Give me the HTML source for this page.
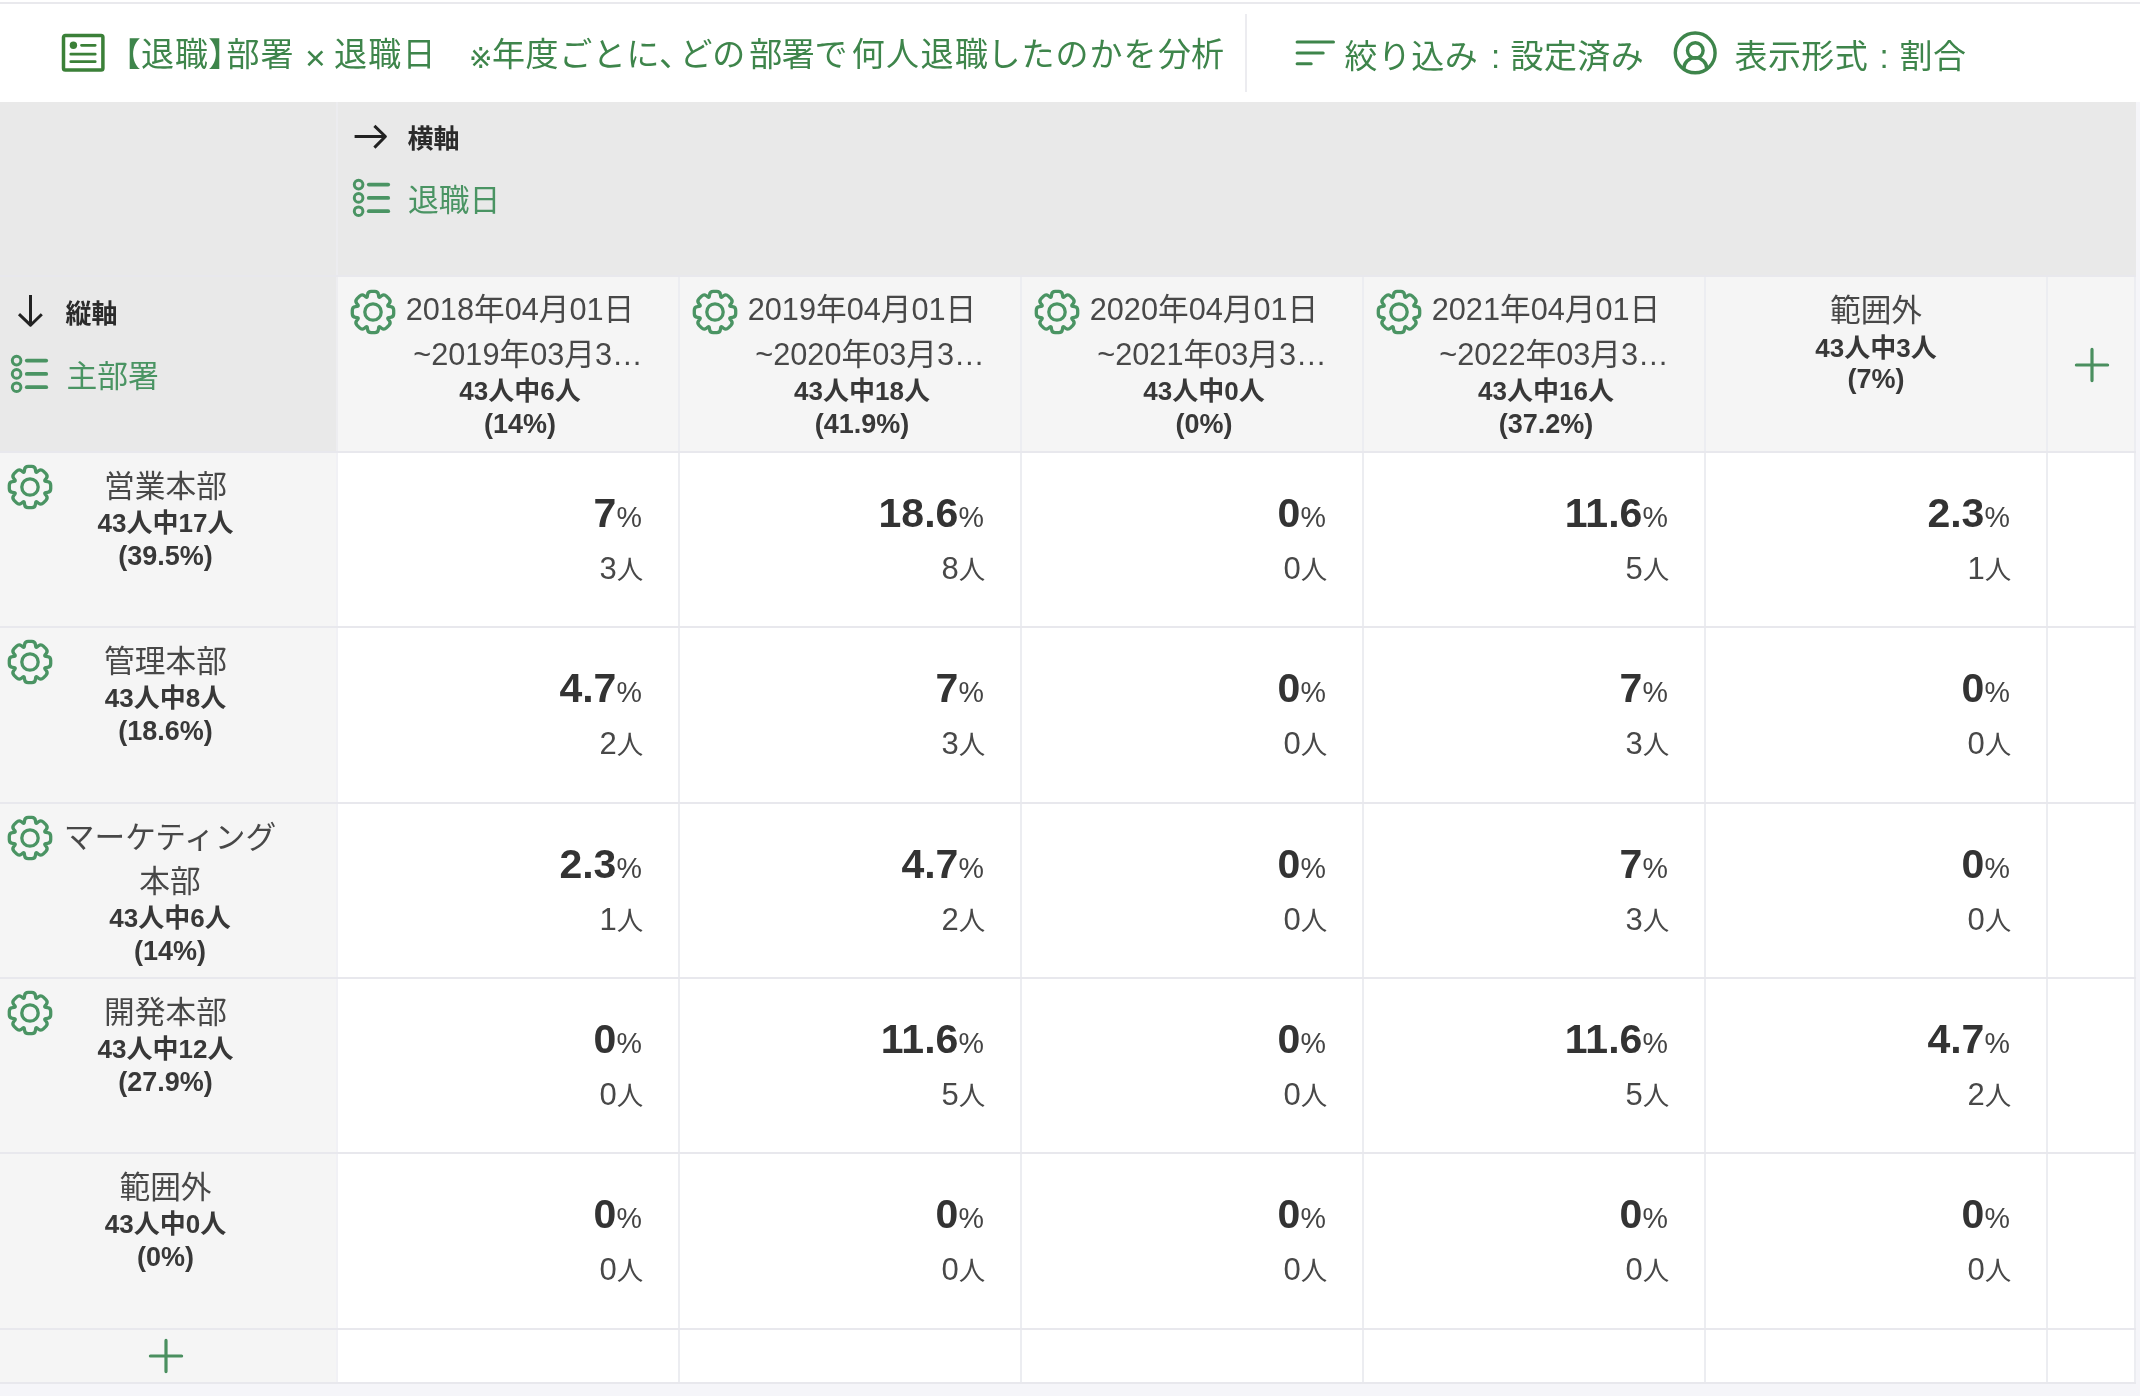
<!DOCTYPE html>
<html lang="ja"><head><meta charset="utf-8"><title>【退職】部署 × 退職日</title>
<style>
html,body{margin:0;padding:0}
html{background:#f5f5f9}
body{will-change:transform;width:2140px;height:1396px;position:relative;overflow:hidden;background:#f5f5f9;
 font-family:"Liberation Sans","Noto Sans CJK JP",sans-serif;color:#3a3a3a;-webkit-font-smoothing:antialiased}
div,span,svg{position:absolute;box-sizing:border-box}
.ic{display:block;overflow:visible}
.t{white-space:nowrap;line-height:1}
.grp{left:0;top:0;width:0;height:0}
.bar{left:0;top:0;width:2140px;height:102px;background:#fff}
.topline{left:0;top:2px;width:2140px;height:2px;background:#e9e9ed}
.ttl{font-size:33px;color:#3e854b;top:37px;height:36px;line-height:36px;font-weight:400}
.hl{background:#e8e8ed;height:2px}
.vl{background:#ecedf1;width:2px}
.axis{font-size:26px;font-weight:700;color:#2b2b2b}
.axname{font-size:30.8px;color:#4a9463}
.nm{font-size:30.7px;color:#484848;text-align:center;line-height:45px;height:45px}
.bd{font-size:26px;font-weight:700;color:#383838;text-align:center;line-height:34px;height:34px}
.pct{text-align:right;height:46px;line-height:46px;font-size:41px;font-weight:700;color:#333;width:300px}
.pct i{font-style:normal;font-weight:400;font-size:28.6px;color:#444;margin-left:0.2px}
.cnt{text-align:right;height:40px;line-height:40px;font-size:31px;color:#484848;width:300px}
.cnt b{font-weight:400;font-size:26.5px}
.b2{font-size:27px}
</style></head><body>

<div class="bar"></div><div class="topline"></div>
<svg class="ic" style="left:60px;top:32px" width="46" height="42" viewBox="0 0 46 42"><rect x="3.5" y="3.4" width="39.4" height="34.7" rx="1.8" fill="none" stroke="#3b8038" stroke-width="3.5"/><circle cx="13.4" cy="13.2" r="3.7" fill="#3b8038"/><path d="M21.5 13.3H35.2M10.8 22.2H35.2M10.8 29.7H35.2" stroke="#3b8038" stroke-width="2.8" stroke-linecap="round" fill="none"/></svg>
<div class="grp"><span class="t ttl" style="left:123.5px;font-feature-settings:'palt';letter-spacing:1px">【退職】部署</span><span class="t ttl" style="left:305px;font-size:35.5px;top:40.2px"> × </span><span class="t ttl" style="left:334px;letter-spacing:1.3px">退職日</span><span class="t ttl" style="left:440px;">　</span><span class="t ttl" style="left:468.8px;font-size:28.5px;top:41px;font-family:'DejaVu Sans',sans-serif">※</span><span class="t ttl" style="left:492px;letter-spacing:0.6px">年度ごとに、</span><span class="t ttl" style="left:679.6px;letter-spacing:-0.4px">どの</span><span class="t ttl" style="left:749.2px;letter-spacing:-0.4px">部署で</span><span class="t ttl" style="left:851.7px;letter-spacing:1.4px">何人退職</span><span class="t ttl" style="left:987.5px;letter-spacing:1px">したのかを</span><span class="t ttl" style="left:1158px;">分析</span></div>
<div style="left:1245px;top:14px;width:2px;height:78px;background:#ececf0"></div>
<svg class="ic" style="left:1294px;top:38px" width="44" height="30" viewBox="0 0 44 30"><path d="M3.1 3.9H39.5M3.1 14.9H29.2M3.1 25.8H17.2" stroke="#3e854b" stroke-width="3" stroke-linecap="round" fill="none"/></svg>
<div class="grp"><span class="t ttl" style="left:1344.5px;letter-spacing:0.4px;top:38.8px">絞り込み</span><span class="t ttl" style="left:1491px;top:38.8px"> : </span><span class="t ttl" style="left:1510.5px;letter-spacing:0.4px;top:38.8px">設定済み</span></div>
<svg class="ic" style="left:1672px;top:29px" width="46" height="46" viewBox="0 0 46 46"><circle cx="23.2" cy="23.9" r="19.9" fill="none" stroke="#3e854b" stroke-width="3.4"/><circle cx="23.3" cy="21.5" r="7.8" fill="none" stroke="#3e854b" stroke-width="3.4"/><path d="M11.7 40.2A11.6 11.6 0 0 1 34.9 40.2" fill="none" stroke="#3e854b" stroke-width="3.4"/></svg>
<div class="grp"><span class="t ttl" style="left:1734.5px;letter-spacing:0.4px;top:38.8px">表示形式</span><span class="t ttl" style="left:1879.5px;top:38.8px"> : </span><span class="t ttl" style="left:1899.5px;letter-spacing:0.4px;top:38.8px">割合</span></div>
<div style="left:0;top:102px;width:2136px;height:1282px;background:#fff"></div>
<div style="left:0;top:102px;width:2136px;height:174px;background:#e9e9e9"></div>
<div style="left:0;top:276px;width:337px;height:176px;background:#e9e9e9"></div>
<div style="left:337px;top:276px;width:1799px;height:176px;background:#f5f5f5"></div>
<div style="left:0;top:452px;width:337px;height:932px;background:#f5f5f5"></div>
<div class="vl" style="left:336px;top:102px;height:174px;background:#ececef"></div>
<div class="vl" style="left:336px;top:276px;height:176px;background:#ededf0"></div>
<div class="vl" style="left:336px;top:452px;height:932px;background:#f1f1f5"></div>
<div class="vl" style="left:678px;top:276px;height:1108px"></div>
<div class="vl" style="left:1020px;top:276px;height:1108px"></div>
<div class="vl" style="left:1362px;top:276px;height:1108px"></div>
<div class="vl" style="left:1704px;top:276px;height:1108px"></div>
<div class="vl" style="left:2046px;top:276px;height:1108px"></div>
<div class="vl" style="left:2134px;top:276px;height:1108px"></div>
<div class="hl" style="left:0;top:275px;width:2136px"></div>
<div class="hl" style="left:0;top:451px;width:2136px"></div>
<div class="hl" style="left:0;top:626px;width:2136px"></div>
<div class="hl" style="left:0;top:802px;width:2136px"></div>
<div class="hl" style="left:0;top:977px;width:2136px"></div>
<div class="hl" style="left:0;top:1152px;width:2136px"></div>
<div class="hl" style="left:0;top:1328px;width:2136px"></div>
<div class="hl" style="left:0;top:1382px;width:2136px"></div>
<svg class="ic" style="left:352px;top:122px" width="38" height="30" viewBox="0 0 38 30"><path d="M2.6 14.5H33M22.4 3.9L33.4 14.5L22.4 25.6" fill="none" stroke="#222" stroke-width="3" stroke-linejoin="round"/></svg>
<span class="t axis" id="a1" style="left:407.5px;top:125.5px">横軸</span>
<svg class="ic" style="left:352.0px;top:178.4px" width="44" height="40" viewBox="0 0 44 40"><circle cx="6.6" cy="6.6" r="4.3" fill="none" stroke="#4a9463" stroke-width="3"/><line x1="16.8" y1="6.6" x2="36.2" y2="6.6" stroke="#4a9463" stroke-width="3.8" stroke-linecap="round"/><circle cx="6.6" cy="19.9" r="4.3" fill="none" stroke="#4a9463" stroke-width="3"/><line x1="16.8" y1="19.9" x2="36.2" y2="19.9" stroke="#4a9463" stroke-width="3.8" stroke-linecap="round"/><circle cx="6.6" cy="33.2" r="4.3" fill="none" stroke="#4a9463" stroke-width="3"/><line x1="16.8" y1="33.2" x2="36.2" y2="33.2" stroke="#4a9463" stroke-width="3.8" stroke-linecap="round"/></svg>
<span class="t axname" id="a2" style="left:408px;top:186.3px">退職日</span>
<svg class="ic" style="left:15px;top:292px" width="32" height="38" viewBox="0 0 32 38"><path d="M15.5 3V32.5M4 22.2L15.5 33.2L26.8 22.2" fill="none" stroke="#222" stroke-width="3" stroke-linejoin="round"/></svg>
<span class="t axis" id="a3" style="left:65.5px;top:300.5px">縦軸</span>
<svg class="ic" style="left:10.0px;top:354.0px" width="44" height="40" viewBox="0 0 44 40"><circle cx="6.6" cy="6.6" r="4.3" fill="none" stroke="#4a9463" stroke-width="3"/><line x1="16.8" y1="6.6" x2="36.2" y2="6.6" stroke="#4a9463" stroke-width="3.8" stroke-linecap="round"/><circle cx="6.6" cy="19.9" r="4.3" fill="none" stroke="#4a9463" stroke-width="3"/><line x1="16.8" y1="19.9" x2="36.2" y2="19.9" stroke="#4a9463" stroke-width="3.8" stroke-linecap="round"/><circle cx="6.6" cy="33.2" r="4.3" fill="none" stroke="#4a9463" stroke-width="3"/><line x1="16.8" y1="33.2" x2="36.2" y2="33.2" stroke="#4a9463" stroke-width="3.8" stroke-linecap="round"/></svg>
<span class="t axname" id="a4" style="left:66.5px;top:361.8px">主部署</span>
<svg class="ic" style="left:349px;top:288px" width="48" height="48" viewBox="0 0 48 48"><path d="M18.58 6.47Q18.99 3.30 22.19 3.30L25.81 3.30Q29.01 3.30 29.42 6.47L29.65 8.28Q29.86 9.86 31.12 8.89L32.56 7.77Q35.10 5.82 37.36 8.08L39.92 10.64Q42.18 12.90 40.23 15.44L39.11 16.88Q38.14 18.14 39.72 18.35L41.53 18.58Q44.70 18.99 44.70 22.19L44.70 25.81Q44.70 29.01 41.53 29.42L39.72 29.65Q38.14 29.86 39.11 31.12L40.23 32.56Q42.18 35.10 39.92 37.36L37.36 39.92Q35.10 42.18 32.56 40.23L31.12 39.11Q29.86 38.14 29.65 39.72L29.42 41.53Q29.01 44.70 25.81 44.70L22.19 44.70Q18.99 44.70 18.58 41.53L18.35 39.72Q18.14 38.14 16.88 39.11L15.44 40.23Q12.90 42.18 10.64 39.92L8.08 37.36Q5.82 35.10 7.77 32.56L8.89 31.12Q9.86 29.86 8.28 29.65L6.47 29.42Q3.30 29.01 3.30 25.81L3.30 22.19Q3.30 18.99 6.47 18.58L8.28 18.35Q9.86 18.14 8.89 16.88L7.77 15.44Q5.82 12.90 8.08 10.64L10.64 8.08Q12.90 5.82 15.44 7.77L16.88 8.89Q18.14 9.86 18.35 8.28Z" fill="none" stroke="#4a9463" stroke-width="3.3" stroke-linejoin="round"/><circle cx="24" cy="24" r="8.2" fill="none" stroke="#4a9463" stroke-width="3.3"/></svg>
<div class="t nm" style="left:390px;top:287px;width:260px">2018年04月01日</div>
<div class="t nm" style="left:398px;top:332px;width:260px">~2019年03月3…</div>
<div class="t bd" style="left:390px;top:374.2px;width:260px">43人中6人</div>
<div class="t bd b2" style="left:390px;top:406.7px;width:260px">(14%)</div>
<svg class="ic" style="left:691px;top:288px" width="48" height="48" viewBox="0 0 48 48"><path d="M18.58 6.47Q18.99 3.30 22.19 3.30L25.81 3.30Q29.01 3.30 29.42 6.47L29.65 8.28Q29.86 9.86 31.12 8.89L32.56 7.77Q35.10 5.82 37.36 8.08L39.92 10.64Q42.18 12.90 40.23 15.44L39.11 16.88Q38.14 18.14 39.72 18.35L41.53 18.58Q44.70 18.99 44.70 22.19L44.70 25.81Q44.70 29.01 41.53 29.42L39.72 29.65Q38.14 29.86 39.11 31.12L40.23 32.56Q42.18 35.10 39.92 37.36L37.36 39.92Q35.10 42.18 32.56 40.23L31.12 39.11Q29.86 38.14 29.65 39.72L29.42 41.53Q29.01 44.70 25.81 44.70L22.19 44.70Q18.99 44.70 18.58 41.53L18.35 39.72Q18.14 38.14 16.88 39.11L15.44 40.23Q12.90 42.18 10.64 39.92L8.08 37.36Q5.82 35.10 7.77 32.56L8.89 31.12Q9.86 29.86 8.28 29.65L6.47 29.42Q3.30 29.01 3.30 25.81L3.30 22.19Q3.30 18.99 6.47 18.58L8.28 18.35Q9.86 18.14 8.89 16.88L7.77 15.44Q5.82 12.90 8.08 10.64L10.64 8.08Q12.90 5.82 15.44 7.77L16.88 8.89Q18.14 9.86 18.35 8.28Z" fill="none" stroke="#4a9463" stroke-width="3.3" stroke-linejoin="round"/><circle cx="24" cy="24" r="8.2" fill="none" stroke="#4a9463" stroke-width="3.3"/></svg>
<div class="t nm" style="left:732px;top:287px;width:260px">2019年04月01日</div>
<div class="t nm" style="left:740px;top:332px;width:260px">~2020年03月3…</div>
<div class="t bd" style="left:732px;top:374.2px;width:260px">43人中18人</div>
<div class="t bd b2" style="left:732px;top:406.7px;width:260px">(41.9%)</div>
<svg class="ic" style="left:1033px;top:288px" width="48" height="48" viewBox="0 0 48 48"><path d="M18.58 6.47Q18.99 3.30 22.19 3.30L25.81 3.30Q29.01 3.30 29.42 6.47L29.65 8.28Q29.86 9.86 31.12 8.89L32.56 7.77Q35.10 5.82 37.36 8.08L39.92 10.64Q42.18 12.90 40.23 15.44L39.11 16.88Q38.14 18.14 39.72 18.35L41.53 18.58Q44.70 18.99 44.70 22.19L44.70 25.81Q44.70 29.01 41.53 29.42L39.72 29.65Q38.14 29.86 39.11 31.12L40.23 32.56Q42.18 35.10 39.92 37.36L37.36 39.92Q35.10 42.18 32.56 40.23L31.12 39.11Q29.86 38.14 29.65 39.72L29.42 41.53Q29.01 44.70 25.81 44.70L22.19 44.70Q18.99 44.70 18.58 41.53L18.35 39.72Q18.14 38.14 16.88 39.11L15.44 40.23Q12.90 42.18 10.64 39.92L8.08 37.36Q5.82 35.10 7.77 32.56L8.89 31.12Q9.86 29.86 8.28 29.65L6.47 29.42Q3.30 29.01 3.30 25.81L3.30 22.19Q3.30 18.99 6.47 18.58L8.28 18.35Q9.86 18.14 8.89 16.88L7.77 15.44Q5.82 12.90 8.08 10.64L10.64 8.08Q12.90 5.82 15.44 7.77L16.88 8.89Q18.14 9.86 18.35 8.28Z" fill="none" stroke="#4a9463" stroke-width="3.3" stroke-linejoin="round"/><circle cx="24" cy="24" r="8.2" fill="none" stroke="#4a9463" stroke-width="3.3"/></svg>
<div class="t nm" style="left:1074px;top:287px;width:260px">2020年04月01日</div>
<div class="t nm" style="left:1082px;top:332px;width:260px">~2021年03月3…</div>
<div class="t bd" style="left:1074px;top:374.2px;width:260px">43人中0人</div>
<div class="t bd b2" style="left:1074px;top:406.7px;width:260px">(0%)</div>
<svg class="ic" style="left:1375px;top:288px" width="48" height="48" viewBox="0 0 48 48"><path d="M18.58 6.47Q18.99 3.30 22.19 3.30L25.81 3.30Q29.01 3.30 29.42 6.47L29.65 8.28Q29.86 9.86 31.12 8.89L32.56 7.77Q35.10 5.82 37.36 8.08L39.92 10.64Q42.18 12.90 40.23 15.44L39.11 16.88Q38.14 18.14 39.72 18.35L41.53 18.58Q44.70 18.99 44.70 22.19L44.70 25.81Q44.70 29.01 41.53 29.42L39.72 29.65Q38.14 29.86 39.11 31.12L40.23 32.56Q42.18 35.10 39.92 37.36L37.36 39.92Q35.10 42.18 32.56 40.23L31.12 39.11Q29.86 38.14 29.65 39.72L29.42 41.53Q29.01 44.70 25.81 44.70L22.19 44.70Q18.99 44.70 18.58 41.53L18.35 39.72Q18.14 38.14 16.88 39.11L15.44 40.23Q12.90 42.18 10.64 39.92L8.08 37.36Q5.82 35.10 7.77 32.56L8.89 31.12Q9.86 29.86 8.28 29.65L6.47 29.42Q3.30 29.01 3.30 25.81L3.30 22.19Q3.30 18.99 6.47 18.58L8.28 18.35Q9.86 18.14 8.89 16.88L7.77 15.44Q5.82 12.90 8.08 10.64L10.64 8.08Q12.90 5.82 15.44 7.77L16.88 8.89Q18.14 9.86 18.35 8.28Z" fill="none" stroke="#4a9463" stroke-width="3.3" stroke-linejoin="round"/><circle cx="24" cy="24" r="8.2" fill="none" stroke="#4a9463" stroke-width="3.3"/></svg>
<div class="t nm" style="left:1416px;top:287px;width:260px">2021年04月01日</div>
<div class="t nm" style="left:1424px;top:332px;width:260px">~2022年03月3…</div>
<div class="t bd" style="left:1416px;top:374.2px;width:260px">43人中16人</div>
<div class="t bd b2" style="left:1416px;top:406.7px;width:260px">(37.2%)</div>
<div class="t nm" style="left:1706px;top:288px;width:340px">範囲外</div>
<div class="t bd" style="left:1706px;top:331px;width:340px">43人中3人</div>
<div class="t bd b2" style="left:1706px;top:362px;width:340px">(7%)</div>
<svg class="ic" style="left:2074.0px;top:347.0px" width="36" height="36" viewBox="0 0 36 36"><path d="M18 2.4V33.6M2.4 18H33.6" fill="none" stroke="#4a8f5f" stroke-width="3.2" stroke-linecap="round"/></svg>
<svg class="ic" style="left:6px;top:463px" width="48" height="48" viewBox="0 0 48 48"><path d="M18.58 6.47Q18.99 3.30 22.19 3.30L25.81 3.30Q29.01 3.30 29.42 6.47L29.65 8.28Q29.86 9.86 31.12 8.89L32.56 7.77Q35.10 5.82 37.36 8.08L39.92 10.64Q42.18 12.90 40.23 15.44L39.11 16.88Q38.14 18.14 39.72 18.35L41.53 18.58Q44.70 18.99 44.70 22.19L44.70 25.81Q44.70 29.01 41.53 29.42L39.72 29.65Q38.14 29.86 39.11 31.12L40.23 32.56Q42.18 35.10 39.92 37.36L37.36 39.92Q35.10 42.18 32.56 40.23L31.12 39.11Q29.86 38.14 29.65 39.72L29.42 41.53Q29.01 44.70 25.81 44.70L22.19 44.70Q18.99 44.70 18.58 41.53L18.35 39.72Q18.14 38.14 16.88 39.11L15.44 40.23Q12.90 42.18 10.64 39.92L8.08 37.36Q5.82 35.10 7.77 32.56L8.89 31.12Q9.86 29.86 8.28 29.65L6.47 29.42Q3.30 29.01 3.30 25.81L3.30 22.19Q3.30 18.99 6.47 18.58L8.28 18.35Q9.86 18.14 8.89 16.88L7.77 15.44Q5.82 12.90 8.08 10.64L10.64 8.08Q12.90 5.82 15.44 7.77L16.88 8.89Q18.14 9.86 18.35 8.28Z" fill="none" stroke="#4a9463" stroke-width="3.3" stroke-linejoin="round"/><circle cx="24" cy="24" r="8.2" fill="none" stroke="#4a9463" stroke-width="3.3"/></svg>
<div class="t nm" style="left:0;top:463.7px;width:331px">営業本部</div>
<div class="t bd" style="left:0;top:505.8px;width:331px">43人中17人</div>
<div class="t bd b2" style="left:0;top:538.7px;width:331px">(39.5%)</div>
<div class="t pct" style="left:342.0px;top:489.9px">7<i>%</i></div>
<div class="t cnt" style="left:343.3px;top:549.3px">3<b>人</b></div>
<div class="t pct" style="left:684.0px;top:489.9px">18.6<i>%</i></div>
<div class="t cnt" style="left:685.3px;top:549.3px">8<b>人</b></div>
<div class="t pct" style="left:1026.0px;top:489.9px">0<i>%</i></div>
<div class="t cnt" style="left:1027.3px;top:549.3px">0<b>人</b></div>
<div class="t pct" style="left:1368.0px;top:489.9px">11.6<i>%</i></div>
<div class="t cnt" style="left:1369.3px;top:549.3px">5<b>人</b></div>
<div class="t pct" style="left:1710.0px;top:489.9px">2.3<i>%</i></div>
<div class="t cnt" style="left:1711.3px;top:549.3px">1<b>人</b></div>
<svg class="ic" style="left:6px;top:638px" width="48" height="48" viewBox="0 0 48 48"><path d="M18.58 6.47Q18.99 3.30 22.19 3.30L25.81 3.30Q29.01 3.30 29.42 6.47L29.65 8.28Q29.86 9.86 31.12 8.89L32.56 7.77Q35.10 5.82 37.36 8.08L39.92 10.64Q42.18 12.90 40.23 15.44L39.11 16.88Q38.14 18.14 39.72 18.35L41.53 18.58Q44.70 18.99 44.70 22.19L44.70 25.81Q44.70 29.01 41.53 29.42L39.72 29.65Q38.14 29.86 39.11 31.12L40.23 32.56Q42.18 35.10 39.92 37.36L37.36 39.92Q35.10 42.18 32.56 40.23L31.12 39.11Q29.86 38.14 29.65 39.72L29.42 41.53Q29.01 44.70 25.81 44.70L22.19 44.70Q18.99 44.70 18.58 41.53L18.35 39.72Q18.14 38.14 16.88 39.11L15.44 40.23Q12.90 42.18 10.64 39.92L8.08 37.36Q5.82 35.10 7.77 32.56L8.89 31.12Q9.86 29.86 8.28 29.65L6.47 29.42Q3.30 29.01 3.30 25.81L3.30 22.19Q3.30 18.99 6.47 18.58L8.28 18.35Q9.86 18.14 8.89 16.88L7.77 15.44Q5.82 12.90 8.08 10.64L10.64 8.08Q12.90 5.82 15.44 7.77L16.88 8.89Q18.14 9.86 18.35 8.28Z" fill="none" stroke="#4a9463" stroke-width="3.3" stroke-linejoin="round"/><circle cx="24" cy="24" r="8.2" fill="none" stroke="#4a9463" stroke-width="3.3"/></svg>
<div class="t nm" style="left:0;top:638.7px;width:331px">管理本部</div>
<div class="t bd" style="left:0;top:680.8px;width:331px">43人中8人</div>
<div class="t bd b2" style="left:0;top:713.7px;width:331px">(18.6%)</div>
<div class="t pct" style="left:342.0px;top:664.9px">4.7<i>%</i></div>
<div class="t cnt" style="left:343.3px;top:724.3px">2<b>人</b></div>
<div class="t pct" style="left:684.0px;top:664.9px">7<i>%</i></div>
<div class="t cnt" style="left:685.3px;top:724.3px">3<b>人</b></div>
<div class="t pct" style="left:1026.0px;top:664.9px">0<i>%</i></div>
<div class="t cnt" style="left:1027.3px;top:724.3px">0<b>人</b></div>
<div class="t pct" style="left:1368.0px;top:664.9px">7<i>%</i></div>
<div class="t cnt" style="left:1369.3px;top:724.3px">3<b>人</b></div>
<div class="t pct" style="left:1710.0px;top:664.9px">0<i>%</i></div>
<div class="t cnt" style="left:1711.3px;top:724.3px">0<b>人</b></div>
<svg class="ic" style="left:6px;top:814px" width="48" height="48" viewBox="0 0 48 48"><path d="M18.58 6.47Q18.99 3.30 22.19 3.30L25.81 3.30Q29.01 3.30 29.42 6.47L29.65 8.28Q29.86 9.86 31.12 8.89L32.56 7.77Q35.10 5.82 37.36 8.08L39.92 10.64Q42.18 12.90 40.23 15.44L39.11 16.88Q38.14 18.14 39.72 18.35L41.53 18.58Q44.70 18.99 44.70 22.19L44.70 25.81Q44.70 29.01 41.53 29.42L39.72 29.65Q38.14 29.86 39.11 31.12L40.23 32.56Q42.18 35.10 39.92 37.36L37.36 39.92Q35.10 42.18 32.56 40.23L31.12 39.11Q29.86 38.14 29.65 39.72L29.42 41.53Q29.01 44.70 25.81 44.70L22.19 44.70Q18.99 44.70 18.58 41.53L18.35 39.72Q18.14 38.14 16.88 39.11L15.44 40.23Q12.90 42.18 10.64 39.92L8.08 37.36Q5.82 35.10 7.77 32.56L8.89 31.12Q9.86 29.86 8.28 29.65L6.47 29.42Q3.30 29.01 3.30 25.81L3.30 22.19Q3.30 18.99 6.47 18.58L8.28 18.35Q9.86 18.14 8.89 16.88L7.77 15.44Q5.82 12.90 8.08 10.64L10.64 8.08Q12.90 5.82 15.44 7.77L16.88 8.89Q18.14 9.86 18.35 8.28Z" fill="none" stroke="#4a9463" stroke-width="3.3" stroke-linejoin="round"/><circle cx="24" cy="24" r="8.2" fill="none" stroke="#4a9463" stroke-width="3.3"/></svg>
<div class="t nm" style="left:0;top:814.7px;width:340px">マーケティング</div>
<div class="t nm" style="left:0;top:858.7px;width:340px">本部</div>
<div class="t bd" style="left:0;top:900.8px;width:340px">43人中6人</div>
<div class="t bd b2" style="left:0;top:933.7px;width:340px">(14%)</div>
<div class="t pct" style="left:342.0px;top:840.9px">2.3<i>%</i></div>
<div class="t cnt" style="left:343.3px;top:900.3px">1<b>人</b></div>
<div class="t pct" style="left:684.0px;top:840.9px">4.7<i>%</i></div>
<div class="t cnt" style="left:685.3px;top:900.3px">2<b>人</b></div>
<div class="t pct" style="left:1026.0px;top:840.9px">0<i>%</i></div>
<div class="t cnt" style="left:1027.3px;top:900.3px">0<b>人</b></div>
<div class="t pct" style="left:1368.0px;top:840.9px">7<i>%</i></div>
<div class="t cnt" style="left:1369.3px;top:900.3px">3<b>人</b></div>
<div class="t pct" style="left:1710.0px;top:840.9px">0<i>%</i></div>
<div class="t cnt" style="left:1711.3px;top:900.3px">0<b>人</b></div>
<svg class="ic" style="left:6px;top:989px" width="48" height="48" viewBox="0 0 48 48"><path d="M18.58 6.47Q18.99 3.30 22.19 3.30L25.81 3.30Q29.01 3.30 29.42 6.47L29.65 8.28Q29.86 9.86 31.12 8.89L32.56 7.77Q35.10 5.82 37.36 8.08L39.92 10.64Q42.18 12.90 40.23 15.44L39.11 16.88Q38.14 18.14 39.72 18.35L41.53 18.58Q44.70 18.99 44.70 22.19L44.70 25.81Q44.70 29.01 41.53 29.42L39.72 29.65Q38.14 29.86 39.11 31.12L40.23 32.56Q42.18 35.10 39.92 37.36L37.36 39.92Q35.10 42.18 32.56 40.23L31.12 39.11Q29.86 38.14 29.65 39.72L29.42 41.53Q29.01 44.70 25.81 44.70L22.19 44.70Q18.99 44.70 18.58 41.53L18.35 39.72Q18.14 38.14 16.88 39.11L15.44 40.23Q12.90 42.18 10.64 39.92L8.08 37.36Q5.82 35.10 7.77 32.56L8.89 31.12Q9.86 29.86 8.28 29.65L6.47 29.42Q3.30 29.01 3.30 25.81L3.30 22.19Q3.30 18.99 6.47 18.58L8.28 18.35Q9.86 18.14 8.89 16.88L7.77 15.44Q5.82 12.90 8.08 10.64L10.64 8.08Q12.90 5.82 15.44 7.77L16.88 8.89Q18.14 9.86 18.35 8.28Z" fill="none" stroke="#4a9463" stroke-width="3.3" stroke-linejoin="round"/><circle cx="24" cy="24" r="8.2" fill="none" stroke="#4a9463" stroke-width="3.3"/></svg>
<div class="t nm" style="left:0;top:989.7px;width:331px">開発本部</div>
<div class="t bd" style="left:0;top:1031.8px;width:331px">43人中12人</div>
<div class="t bd b2" style="left:0;top:1064.7px;width:331px">(27.9%)</div>
<div class="t pct" style="left:342.0px;top:1015.9px">0<i>%</i></div>
<div class="t cnt" style="left:343.3px;top:1075.3px">0<b>人</b></div>
<div class="t pct" style="left:684.0px;top:1015.9px">11.6<i>%</i></div>
<div class="t cnt" style="left:685.3px;top:1075.3px">5<b>人</b></div>
<div class="t pct" style="left:1026.0px;top:1015.9px">0<i>%</i></div>
<div class="t cnt" style="left:1027.3px;top:1075.3px">0<b>人</b></div>
<div class="t pct" style="left:1368.0px;top:1015.9px">11.6<i>%</i></div>
<div class="t cnt" style="left:1369.3px;top:1075.3px">5<b>人</b></div>
<div class="t pct" style="left:1710.0px;top:1015.9px">4.7<i>%</i></div>
<div class="t cnt" style="left:1711.3px;top:1075.3px">2<b>人</b></div>
<div class="t nm" style="left:0;top:1164.7px;width:331px">範囲外</div>
<div class="t bd" style="left:0;top:1206.8px;width:331px">43人中0人</div>
<div class="t bd b2" style="left:0;top:1239.7px;width:331px">(0%)</div>
<div class="t pct" style="left:342.0px;top:1190.9px">0<i>%</i></div>
<div class="t cnt" style="left:343.3px;top:1250.3px">0<b>人</b></div>
<div class="t pct" style="left:684.0px;top:1190.9px">0<i>%</i></div>
<div class="t cnt" style="left:685.3px;top:1250.3px">0<b>人</b></div>
<div class="t pct" style="left:1026.0px;top:1190.9px">0<i>%</i></div>
<div class="t cnt" style="left:1027.3px;top:1250.3px">0<b>人</b></div>
<div class="t pct" style="left:1368.0px;top:1190.9px">0<i>%</i></div>
<div class="t cnt" style="left:1369.3px;top:1250.3px">0<b>人</b></div>
<div class="t pct" style="left:1710.0px;top:1190.9px">0<i>%</i></div>
<div class="t cnt" style="left:1711.3px;top:1250.3px">0<b>人</b></div>
<svg class="ic" style="left:147.7px;top:1338.0px" width="36" height="36" viewBox="0 0 36 36"><path d="M18 2.4V33.6M2.4 18H33.6" fill="none" stroke="#4a8f5f" stroke-width="3.2" stroke-linecap="round"/></svg>
</body></html>
